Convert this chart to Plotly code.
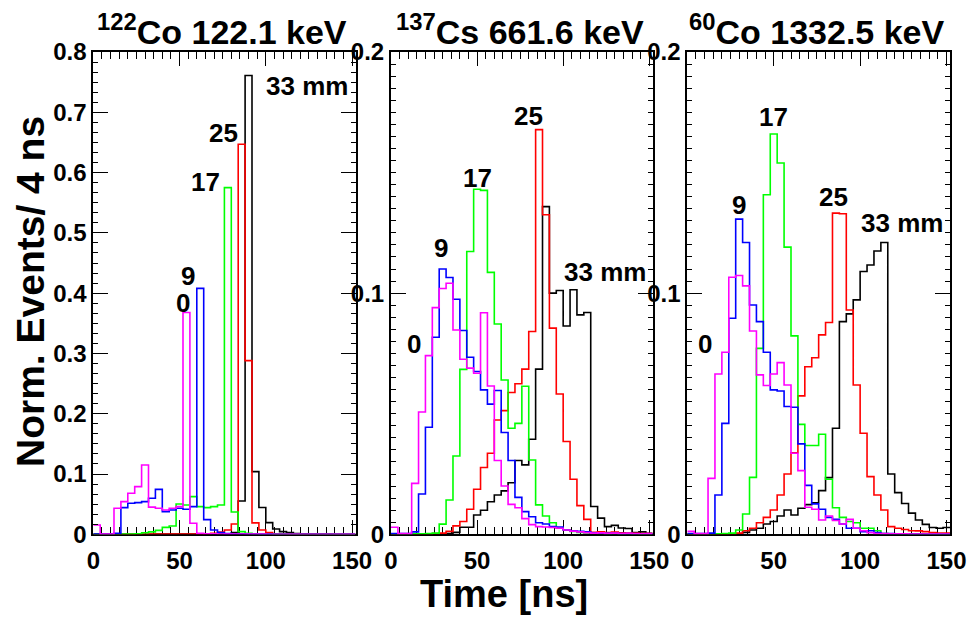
import plotly.graph_objects as go

# ---------------------------------------------------------------------------
# Timing histograms, 4 ns bins from 0 to 152 ns, for interaction depths
# 0, 9, 17, 25 and 33 mm, three gamma-ray lines.
# ---------------------------------------------------------------------------
BIN_WIDTH = 4
N_BINS = 38
bin_edges = [BIN_WIDTH * k for k in range(N_BINS + 1)]

# --- 122.1 keV ---
co122_0mm = [0.0155, 0.0003, 0.0003, 0.0432, 0.0542, 0.068, 0.079, 0.115, 0.045, 0.0432,
             0.0404, 0.0432, 0.0459, 0.368, 0.0183, 0.0015, 0.001, 0.0008, 0.0006, 0.0005,
             0.0004, 0.0004, 0.0003, 0.0003, 0.0003, 0.0002, 0.0002, 0.0002, 0.0002, 0.0002,
             0.0001, 0.0001, 0.0001, 0.0001, 0.0001, 0.0001, 0.0001, 0.0001]
co122_9mm = [0.0004, 0.0004, 0.0004, 0.0016, 0.0442, 0.0514, 0.0525, 0.0542, 0.0597, 0.0746,
             0.0376, 0.0403, 0.0431, 0.0415, 0.0459, 0.408, 0.0243, 0.0071, 0.0027, 0.0012,
             0.001, 0.0008, 0.0005, 0.0004, 0.0003, 0.0003, 0.0002, 0.0002, 0.0002, 0.0002,
             0.0001, 0.0001, 0.0001, 0.0001, 0.0001, 0.0001, 0.0001, 0.0001]
co122_17mm = [0.0002, 0.0002, 0.0002, 0.0003, 0.0003, 0.0003, 0.001, 0.0025, 0.004, 0.0065,
              0.0115, 0.0138, 0.0503, 0.0487, 0.0625, 0.0459, 0.0443, 0.0459, 0.0487, 0.575,
              0.0371, 0.0044, 0.0017, 0.0008, 0.0005, 0.0004, 0.0003, 0.0003, 0.0002, 0.0002,
              0.0002, 0.0001, 0.0001, 0.0001, 0.0001, 0.0001, 0.0001, 0.0001]
co122_25mm = [0.0002, 0.0002, 0.0002, 0.0002, 0.0002, 0.0002, 0.0002, 0.0002, 0.0003, 0.0003,
              0.0003, 0.0003, 0.0005, 0.0005, 0.0005, 0.0006, 0.0008, 0.0017, 0.0038, 0.0071,
              0.0172, 0.647, 0.288, 0.019, 0.0071, 0.003, 0.0008, 0.0004, 0.0003, 0.0003,
              0.0002, 0.0002, 0.0002, 0.0002, 0.0001, 0.0001, 0.0001, 0.0001]
co122_33mm = [0.0002, 0.0002, 0.0002, 0.0002, 0.0002, 0.0002, 0.0002, 0.0002, 0.0002, 0.0003,
              0.0003, 0.0003, 0.0003, 0.0004, 0.0004, 0.0004, 0.0005, 0.0006, 0.0008, 0.001,
              0.0027, 0.0553, 0.761, 0.104, 0.0445, 0.0194, 0.0088, 0.0044, 0.0028, 0.0012,
              0.0008, 0.0004, 0.0004, 0.0003, 0.0003, 0.0002, 0.0002, 0.0002]

# --- 661.6 keV ---
cs137_0mm = [0.0029, 0.0003, 0.0003, 0.0211, 0.0507, 0.0741, 0.094, 0.1019, 0.1041, 0.0847,
             0.0726, 0.0689, 0.0668, 0.0919, 0.0615, 0.0306, 0.020, 0.0124, 0.011, 0.0065,
             0.004, 0.0032, 0.003, 0.0028, 0.0025, 0.0018, 0.0013, 0.001, 0.0007, 0.0005,
             0.0006, 0.0004, 0.0005, 0.0003, 0.0004, 0.0003, 0.0002, 0.0003]
cs137_9mm = [0.0003, 0.0003, 0.0003, 0.001, 0.0167, 0.0444, 0.0817, 0.11, 0.1065, 0.0975,
             0.0845, 0.0734, 0.0675, 0.0599, 0.054, 0.0596, 0.0422, 0.0306, 0.0153, 0.0094,
             0.0073, 0.0048, 0.0043, 0.0032, 0.003, 0.0018, 0.0015, 0.0012, 0.001, 0.0006,
             0.0005, 0.0004, 0.0004, 0.0003, 0.0003, 0.0002, 0.0002, 0.0002]
cs137_17mm = [0.0001, 0.0001, 0.0001, 0.0002, 0.0002, 0.0003, 0.0005, 0.0042, 0.0142, 0.0325,
              0.0684, 0.1173, 0.1431, 0.1426, 0.1086, 0.0872, 0.064, 0.044, 0.046, 0.0614,
              0.0308, 0.0122, 0.0076, 0.0048, 0.0025, 0.0018, 0.0012, 0.0008, 0.0006, 0.0005,
              0.0004, 0.0003, 0.0003, 0.0002, 0.0002, 0.0002, 0.0001, 0.0001]
cs137_25mm = [0.0001, 0.0001, 0.0001, 0.0001, 0.0002, 0.0002, 0.0003, 0.0005, 0.0012, 0.0035,
              0.0053, 0.0104, 0.0187, 0.0277, 0.0336, 0.0474, 0.0513, 0.0588, 0.0624, 0.0685,
              0.0841, 0.1678, 0.1325, 0.0855, 0.0582, 0.0385, 0.0228, 0.0119, 0.0062, 0.0008,
              0.001, 0.0007, 0.0009, 0.0006, 0.0005, 0.0004, 0.0003, 0.0003]
cs137_33mm = [0.0002, 0.0002, 0.0002, 0.0002, 0.0002, 0.0002, 0.0002, 0.0002, 0.0003, 0.0008,
              0.0029, 0.0029, 0.008, 0.010, 0.0135, 0.0163, 0.018, 0.0214, 0.0306, 0.0288,
              0.0394, 0.0685, 0.1359, 0.100, 0.1011, 0.0864, 0.1014, 0.091, 0.092, 0.0115,
              0.0067, 0.0032, 0.0037, 0.0026, 0.0024, 0.0007, 0.001, 0.0004]

# --- 1332.5 keV ---
co60_0mm = [0.0012, 0.0003, 0.0003, 0.0232, 0.0665, 0.0755, 0.1066, 0.1073, 0.103, 0.0843,
            0.0661, 0.0617, 0.0665, 0.0712, 0.0619, 0.0336, 0.0264, 0.0112, 0.0104, 0.0059,
            0.0076, 0.0057, 0.0043, 0.0062, 0.0025, 0.0015, 0.0007, 0.0003, 0.0003, 0.0002,
            0.0002, 0.0002, 0.0001, 0.0001, 0.0001, 0.0001, 0.0001, 0.0001]
co60_9mm = [0.0003, 0.0003, 0.0003, 0.0005, 0.0163, 0.046, 0.0896, 0.1307, 0.121, 0.0951,
            0.0882, 0.0755, 0.0599, 0.0594, 0.053, 0.0527, 0.0375, 0.0203, 0.0126, 0.0104,
            0.007, 0.0062, 0.0043, 0.0025, 0.0025, 0.0011, 0.0015, 0.0007, 0.0003, 0.0003,
            0.0002, 0.0002, 0.0001, 0.0001, 0.0001, 0.0001, 0.0001, 0.0001]
co60_17mm = [0.0001, 0.0001, 0.0001, 0.0001, 0.0002, 0.0003, 0.0005, 0.0018, 0.0084, 0.0236,
             0.0771, 0.1408, 0.166, 0.154, 0.1191, 0.0823, 0.0456, 0.0368, 0.0368, 0.0415,
             0.0228, 0.011, 0.007, 0.0053, 0.0048, 0.0025, 0.0025, 0.0015, 0.0003, 0.0002,
             0.0002, 0.0001, 0.0001, 0.0001, 0.0001, 0.0001, 0.0001, 0.0001]
co60_25mm = [0.0001, 0.0001, 0.0001, 0.0001, 0.0001, 0.0001, 0.0001, 0.0005, 0.0015, 0.0025,
             0.0048, 0.007, 0.0101, 0.0163, 0.025, 0.0338, 0.0574, 0.0695, 0.0732, 0.0827,
             0.0878, 0.1332, 0.1329, 0.093, 0.0619, 0.0419, 0.0239, 0.0163, 0.0101, 0.0032,
             0.0025, 0.002, 0.0015, 0.0014, 0.0011, 0.0007, 0.0005, 0.0005]
co60_33mm = [0.0001, 0.0001, 0.0001, 0.0001, 0.0001, 0.0001, 0.0001, 0.0001, 0.0008, 0.0018,
             0.0025, 0.0043, 0.0053, 0.0076, 0.0101, 0.008, 0.0108, 0.0123, 0.0131, 0.0181,
             0.0235, 0.044, 0.0882, 0.0914, 0.0972, 0.109, 0.1117, 0.1175, 0.121, 0.025,
             0.0173, 0.0128, 0.0088, 0.0059, 0.0041, 0.0028, 0.0025, 0.0028]

panel_titles = ["<sup>122</sup>Co 122.1 keV", "<sup>137</sup>Cs 661.6 keV",
                "<sup>60</sup>Co 1332.5 keV"]
y_maxima = [0.8, 0.2, 0.2]
y_tick_values = [[0, 0.1, 0.2, 0.3, 0.4, 0.5, 0.6, 0.7, 0.8], [0, 0.1, 0.2], [0, 0.1, 0.2]]
y_tick_text = [["0", "0.1", "0.2", "0.3", "0.4", "0.5", "0.6", "0.7", "0.8"],
               ["0", "0.1", "0.2"], ["0", "0.1", "0.2"]]
x_tick_values = [0, 50, 100, 150]
x_tick_text = ["0", "50", "100", "150"]
depth_text = ["0", "9", "17", "25", "33 mm"]

panel_series = [
    [co122_33mm, co122_25mm, co122_17mm, co122_9mm, co122_0mm],
    [cs137_33mm, cs137_25mm, cs137_17mm, cs137_9mm, cs137_0mm],
    [co60_33mm, co60_25mm, co60_17mm, co60_9mm, co60_0mm],
]
# drawing order: 33, 25, 17, 9, 0 mm
series_colors = ["#000000", "#ff0000", "#00ff00", "#0000ff", "#ff00ff"]

# --- layout / style --------------------------------------------------------
W, H = 968, 617
FONT = "Liberation Sans, Arial, sans-serif"
panel_px = [(93.3, 355.5), (391.0, 652.7), (687.3, 950.0)]
plot_top, plot_bottom = 52.0, 534.3
y_domain = [(H - plot_bottom) / H, (H - plot_top) / H]

# tick hierarchy for the value axes: (medium step, minor step)
y_sub_ticks = [(0.05, 0.1 / 6), (0.02, 0.005), (0.02, 0.005)]

# depth-label anchor points (ns, value), ordered 0, 9, 17, 25, 33 mm
label_xy = [
    [(51.8, 0.384), (54.9, 0.428), (64.8, 0.585), (75.2, 0.666), (123.6, 0.744)],
    [(13.6, 0.079), (29.3, 0.1186), (50.0, 0.1478), (79.6, 0.1736), (124.3, 0.1086)],
    [(10.2, 0.079), (30.2, 0.1366), (49.9, 0.1732), (84.6, 0.1398), (124.5, 0.1292)],
]

tick_font = dict(family=FONT, size=24, color="black", weight="bold")

fig = go.Figure()
annotations = []
layout_axes = {}

for p in range(3):
    n = p + 1
    xname = "x" if n == 1 else f"x{n}"
    yname = "y" if n == 1 else f"y{n}"
    for vals, col in zip(panel_series[p], series_colors):
        fig.add_trace(go.Scatter(
            x=bin_edges, y=list(vals) + [vals[-1]], mode="lines",
            line=dict(color=col, width=1.6, shape="hv"),
            xaxis=xname, yaxis=yname, showlegend=False, hoverinfo="skip"))

    x0, x1 = panel_px[p]
    ymax = y_maxima[p]
    med_step, min_step = y_sub_ticks[p]
    n_med = int(round(ymax / med_step))
    med_vals = [i * med_step for i in range(n_med + 1)]

    layout_axes["xaxis" if n == 1 else f"xaxis{n}"] = dict(
        domain=[x0 / W, x1 / W], range=[0, N_BINS * BIN_WIDTH], anchor=yname,
        automargin=False, ticklabelstandoff=4,
        tickmode="array", tickvals=x_tick_values, ticktext=x_tick_text,
        ticks="inside", ticklen=14, tickwidth=1.3, tickcolor="black",
        minor=dict(tickmode="linear", tick0=0, dtick=5, ticks="inside", ticklen=7,
                   tickwidth=1.3, tickcolor="black", showgrid=False),
        showline=True, linewidth=2, linecolor="black", mirror="ticks",
        showgrid=False, zeroline=False, tickfont=tick_font, layer="below traces",
        fixedrange=True)
    layout_axes["yaxis" if n == 1 else f"yaxis{n}"] = dict(
        domain=y_domain, range=[0, ymax], anchor=xname, automargin=False,
        tickmode="array", tickvals=y_tick_values[p], ticktext=y_tick_text[p],
        ticks="inside", ticklen=15, tickwidth=1.3, tickcolor="black",
        minor=dict(tickmode="linear", tick0=0, dtick=min_step, ticks="inside", ticklen=5,
                   tickwidth=1.3, tickcolor="black", showgrid=False),
        showline=True, linewidth=2, linecolor="black", mirror="ticks",
        showgrid=False, zeroline=False, tickfont=tick_font, fixedrange=True)
    # medium-length ticks on an overlaid value axis
    layout_axes[f"yaxis{n + 3}"] = dict(
        overlaying=yname, anchor=xname, range=[0, ymax], side="left", automargin=False,
        tickmode="array", tickvals=med_vals, showticklabels=False,
        ticks="inside", ticklen=9, tickwidth=1.3, tickcolor="black",
        showline=False, mirror="ticks", showgrid=False, zeroline=False,
        fixedrange=True)

    # panel title
    annotations.append(dict(
        text=panel_titles[p], xref="paper", yref="paper",
        x=((x0 + x1) / 2 - 2) / W, y=1 - 30 / H, xanchor="center", yanchor="middle",
        showarrow=False, font=dict(family=FONT, size=34, color="black", weight="bold")))

    # depth labels
    for txt, (lx, ly) in zip(depth_text, label_xy[p]):
        annotations.append(dict(
            text=txt, xref=xname, yref=yname, x=lx, y=ly,
            xanchor="center", yanchor="middle", showarrow=False,
            font=dict(family=FONT, size=26, color="black", weight="bold")))

# axis titles
annotations.append(dict(
    text="Norm. Events/ 4 ns", xref="paper", yref="paper", x=30 / W, y=1 - 292 / H,
    textangle=-90, xanchor="center", yanchor="middle", showarrow=False,
    font=dict(family=FONT, size=39, color="black", weight="bold")))
annotations.append(dict(
    text="Time [ns]", xref="paper", yref="paper", x=504 / W, y=1 - 594 / H,
    xanchor="center", yanchor="middle", showarrow=False,
    font=dict(family=FONT, size=38, color="black", weight="bold")))

fig.update_layout(
    template="none",
    width=W, height=H, autosize=False,
    margin=dict(l=0, r=0, t=0, b=0, pad=0, autoexpand=False),
    paper_bgcolor="white", plot_bgcolor="white",
    annotations=annotations, showlegend=False,
    **layout_axes)

fig.write_html("out.html")
